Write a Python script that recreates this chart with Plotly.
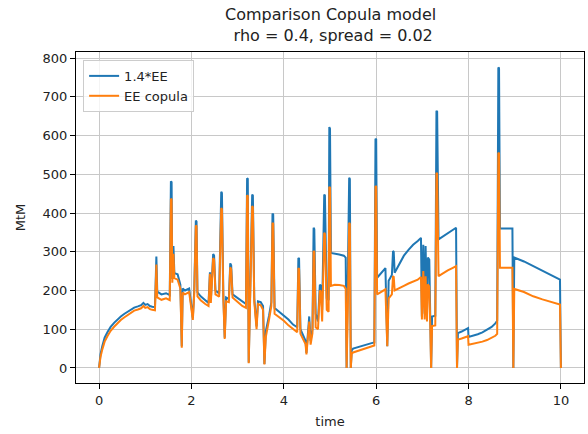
import plotly.graph_objects as go

# Simulation time grid (years) and exposure profiles
time = [
    0.00, 0.03, 0.07, 0.12, 0.18, 0.25, 0.33, 0.40, 0.47, 0.55, 0.62, 0.70, 0.76, 0.84, 0.91, 0.96, 1.00, 1.05, 1.10, 1.15, 1.21,
    1.24, 1.26, 1.35, 1.45, 1.53,
    1.555, 1.57, 1.585, 1.61, 1.63, 1.70, 1.76, 1.79, 1.81, 1.86, 1.95, 2.03, 2.06,
    2.095, 2.11, 2.13, 2.20, 2.30, 2.37, 2.40, 2.42, 2.47, 2.49, 2.52, 2.60,
    2.645, 2.66, 2.69, 2.72, 2.75, 2.81, 2.84, 2.86, 2.89, 3.00, 3.10, 3.18,
    3.205, 3.22, 3.24, 3.27, 3.315, 3.33, 3.36, 3.41, 3.44, 3.50, 3.55, 3.58, 3.61, 3.68, 3.73,
    3.755, 3.77, 3.80, 3.90, 4.00, 4.10, 4.20, 4.29,
    4.315, 4.33, 4.36, 4.42, 4.47, 4.49, 4.52, 4.55, 4.58, 4.62,
    4.645, 4.66, 4.69, 4.74, 4.78, 4.80, 4.83, 4.875, 4.89, 4.93, 4.97,
    4.985, 5.00, 5.02, 5.10, 5.20, 5.30, 5.34, 5.36, 5.39, 5.415, 5.43, 5.45, 5.47,
    5.50, 5.60, 5.70, 5.80, 5.90, 5.96,
    5.985, 6.00, 6.02, 6.10, 6.20, 6.24, 6.27, 6.34, 6.365, 6.38, 6.40, 6.50, 6.60, 6.70, 6.80, 6.90, 6.97,
    6.99, 7.02, 7.05, 7.07, 7.10, 7.12, 7.15, 7.17, 7.19, 7.21, 7.28,
    7.305, 7.32, 7.35, 7.45, 7.55, 7.65, 7.73, 7.75, 7.77, 7.85, 7.95, 7.99,
    8.00, 8.10, 8.20, 8.30, 8.40, 8.50, 8.58, 8.62,
    8.645, 8.66, 8.68, 8.95, 8.97, 8.99, 9.20, 9.40, 9.60, 9.80, 9.98, 10.00,
]

ee_scaled = [
    0, 35, 57, 78, 92, 106, 117, 126, 133, 140, 146, 152, 156, 159, 162, 168, 163, 165, 160, 158, 157,
    288, 197, 190, 193, 188,
    482, 480, 230, 315, 245, 242, 215, 56, 205, 200, 205, 130, 200,
    381, 378, 195, 185, 175, 168, 247, 175, 294, 290, 200, 192,
    455, 452, 190, 78, 182, 178, 270, 265, 190, 180, 170, 165,
    490, 488, 14, 200, 448, 445, 180, 107, 172, 170, 160, 10, 95, 135, 170,
    399, 396, 155, 145, 135, 125, 112, 105,
    284, 282, 100, 85, 70, 39, 90, 133, 70, 100,
    362, 358, 140, 120, 215, 213, 150, 448, 445, 180, 175,
    622, 618, 297, 296, 293, 290, 285, 0, 240, 491, 488, 0, 45,
    50, 54, 57, 60, 64, 66,
    592, 590, 233, 245, 258, 56, 225, 240, 302, 300, 246, 270, 290, 305, 318, 328, 336,
    133, 318, 140, 315, 140, 285, 280, 133, 0, 133, 135,
    664, 662, 332, 340, 348, 355, 362, 0, 90, 94, 100, 103,
    80, 83, 87, 92, 98, 106, 115, 122,
    776, 774, 360, 360, 0, 285, 275, 263, 252, 240, 228, 0,
]

ee_copula = [
    0, 28, 48, 68, 82, 96, 107, 116, 124, 131, 137, 143, 148, 151, 154, 160, 155, 157, 152, 150, 149,
    267, 182, 176, 180, 175,
    437, 435, 220, 295, 232, 228, 205, 52, 195, 190, 196, 124, 190,
    368, 366, 185, 175, 165, 160, 243, 168, 284, 280, 190, 184,
    413, 410, 180, 75, 172, 170, 260, 255, 182, 170, 160, 155,
    446, 444, 12, 190, 418, 415, 172, 100, 165, 162, 150, 9, 80, 125, 160,
    375, 372, 140, 132, 122, 110, 100, 92,
    258, 256, 88, 75, 62, 35, 80, 120, 60, 90,
    302, 300, 105, 100, 200, 198, 120, 349, 346, 150, 145,
    468, 465, 212, 215, 214, 212, 205, 0, 180, 375, 372, 0, 37,
    40, 44, 48, 52, 56, 58,
    470, 468, 190, 196, 203, 56, 180, 190, 237, 235, 200, 205, 212, 218, 222, 228, 235,
    125, 250, 125, 237, 120, 216, 210, 117, 0, 108, 110,
    504, 502, 237, 245, 252, 258, 263, 0, 73, 76, 80, 82,
    60, 62, 65, 68, 72, 78, 83, 88,
    556, 554, 259, 259, 0, 204, 196, 185, 177, 170, 164, 0,
]

BLUE = "#1f77b4"
ORANGE = "#ff7f0e"
FONT = "DejaVu Sans"
TEXT = "#222"

fig = go.Figure()
fig.add_trace(go.Scatter(x=time, y=ee_scaled, mode="lines", name="1.4*EE",
                         line=dict(color=BLUE, width=2)))
fig.add_trace(go.Scatter(x=time, y=ee_copula, mode="lines", name="EE copula",
                         line=dict(color=ORANGE, width=2)))

axis_common = dict(
    showline=True, mirror=True, linecolor="black", linewidth=1,
    showgrid=True, gridcolor="#c8c8c8", gridwidth=1,
    ticks="outside", ticklen=5, tickcolor="black", tickwidth=1,
    zeroline=False, tickfont=dict(family=FONT, size=13, color=TEXT),
)

fig.update_layout(
    width=588, height=434,
    margin=dict(l=76, r=4, t=52, b=51),
    paper_bgcolor="white", plot_bgcolor="white",
    font=dict(family=FONT, size=13, color=TEXT),
    xaxis=dict(range=[-0.5, 10.5], tickvals=[0, 2, 4, 6, 8, 10],
               title=dict(text="time", standoff=10,
                          font=dict(family=FONT, size=13, color=TEXT)),
               **axis_common),
    yaxis=dict(range=[-38.9, 816], tickvals=list(range(0, 801, 100)),
               title=dict(text="MtM", standoff=14,
                          font=dict(family=FONT, size=13, color=TEXT)),
               **axis_common),
    legend=dict(x=0.014, y=0.976, xanchor="left", yanchor="top",
                bgcolor="rgba(255,255,255,0.8)", bordercolor="#cccccc",
                borderwidth=1, font=dict(family=FONT, size=13, color=TEXT),
                tracegroupgap=0, itemwidth=30),
    showlegend=True,
)

# Two-line title centred over the plotting area
fig.add_annotation(
    text="Comparison Copula model<br> rho = 0.4, spread = 0.02",
    xref="paper", yref="paper", x=0.5, y=1, xanchor="center", yanchor="bottom",
    yshift=5, showarrow=False, align="center",
    font=dict(family=FONT, size=16, color=TEXT),
)

fig.write_html("out.html")
